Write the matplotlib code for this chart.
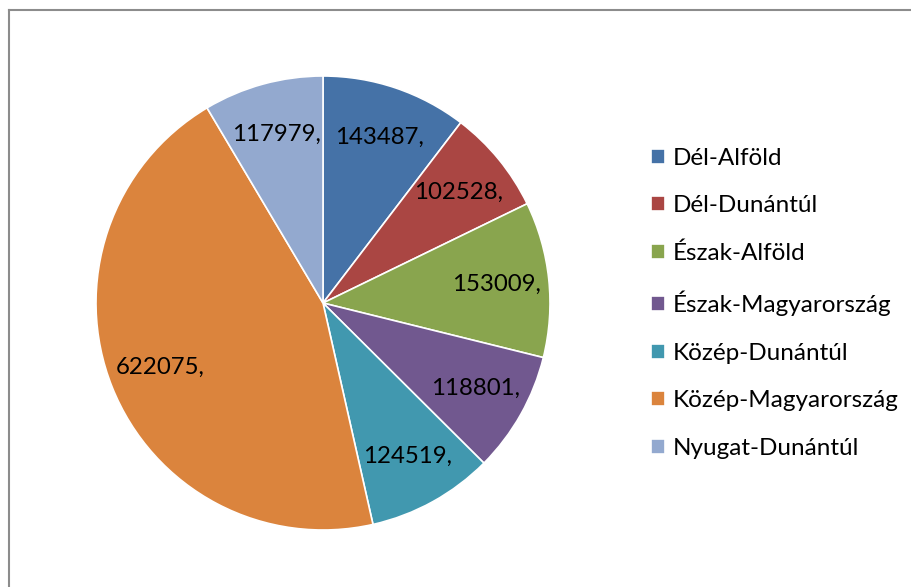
import matplotlib.pyplot as plt
from matplotlib.lines import Line2D

regions = ['Dél-Alföld', 'Dél-Dunántúl', 'Észak-Alföld', 'Észak-Magyarország',
           'Közép-Dunántúl', 'Közép-Magyarország', 'Nyugat-Dunántúl']
values = [143487, 102528, 153009, 118801, 124519, 622075, 117979]
colors = ['#4572A7', '#AA4643', '#89A54E', '#71588F', '#4198AF', '#DB843D', '#93A9CF']

plt.rcParams['font.family'] = ['Lato', 'DejaVu Sans']

fig = plt.figure(figsize=(9.12, 5.87), dpi=100)

# pie axes: centre ~ (323, 303) px, radius ~227 px
ax = fig.add_axes([96 / 912, (587 - 303 - 227) / 587, 454 / 912, 454 / 587])
wedges, texts = ax.pie(values, colors=colors, startangle=90, counterclock=False,
                       labels=[f'{v},' for v in values], labeldistance=0.77,
                       wedgeprops=dict(edgecolor='white', linewidth=1.2),
                       textprops=dict(fontsize=17.3, ha='center', va='center'))
ax.set_xlim(-1, 1)
ax.set_ylim(-1, 1)
ax.set_aspect('equal')

fig.legend(wedges, regions, loc='upper left', bbox_to_anchor=(651 / 912, 1 - 148 / 587),
           frameon=False, fontsize=17.5, handlelength=0.58, handleheight=0.58,
           handletextpad=0.3, labelspacing=1.09, borderaxespad=0, borderpad=0)

# chart border (left and top edges visible)
fig.add_artist(Line2D([9 / 912, 9 / 912], [0, 1 - 9.5 / 587], transform=fig.transFigure,
                      color='#8C8C8C', linewidth=1.5))
fig.add_artist(Line2D([9 / 912, 1], [1 - 9.5 / 587, 1 - 9.5 / 587], transform=fig.transFigure,
                      color='#8C8C8C', linewidth=1.5))

fig.savefig('out.png', dpi=100)
